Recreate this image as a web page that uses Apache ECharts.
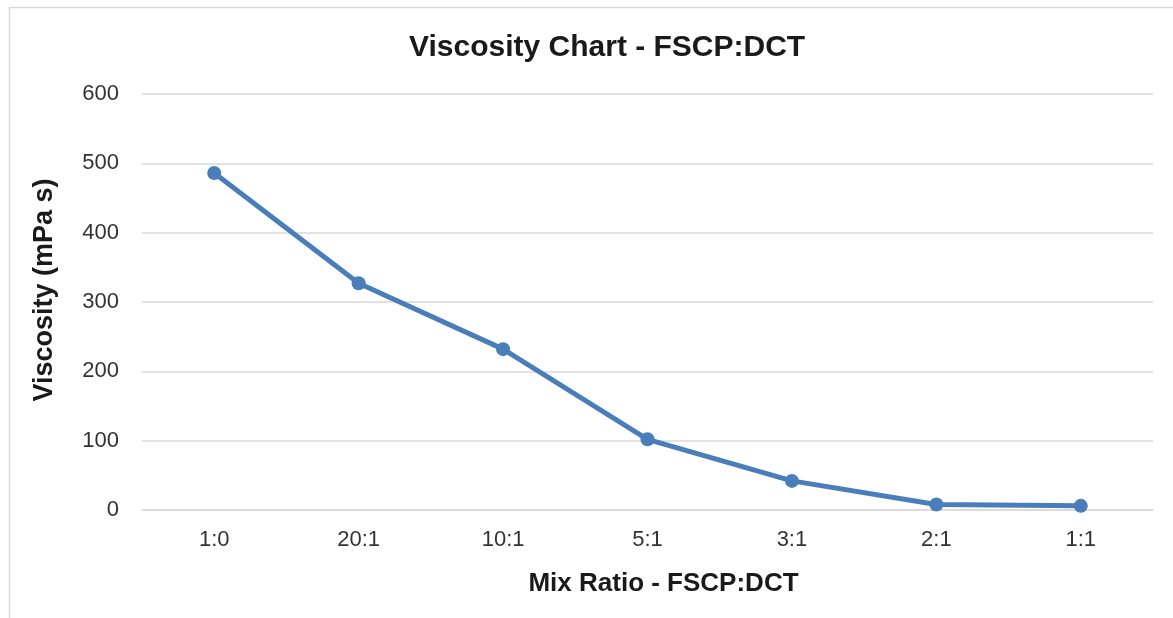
<!DOCTYPE html>
<html>
<head>
<meta charset="utf-8">
<script src="https://cdn.jsdelivr.net/npm/echarts@6/dist/echarts.min.js"></script>
<style>
  html, body { margin: 0; padding: 0; background: #fff; }
  #chart { width: 1173px; height: 618px; }
</style>
</head>
<body>
<div id="chart"></div>
<script>
// mix ratios along the x axis
const ratios = ['1:0', '20:1', '10:1', '5:1', '3:1', '2:1', '1:1'];
// viscosity (mPa s)
const viscosity = [486, 327, 232, 102, 42, 8, 6];

const chart = echarts.init(document.getElementById('chart'));
const font = '"Liberation Sans", Arial, sans-serif';

chart.setOption({
  backgroundColor: '#fff',
  textStyle: { fontFamily: font },
  graphic: [{
    type: 'rect',
    shape: { x: 9.5, y: 7.5, width: 1200, height: 700 },
    style: { fill: 'none', stroke: '#d9d9d9', lineWidth: 1.5 },
    silent: true
  }],
  title: {
    text: 'Viscosity Chart - FSCP:DCT',
    left: 404,
    top: 28,
    textStyle: { fontFamily: font, fontSize: 30, fontWeight: 'bold', color: '#1a1a1a' }
  },
  grid: { left: 142, right: 20, top: 94, bottom: 108 },
  xAxis: {
    type: 'category',
    data: ratios,
    boundaryGap: true,
    name: 'Mix Ratio - FSCP:DCT',
    nameLocation: 'middle',
    nameGap: 61,
    nameTextStyle: { fontFamily: font, fontSize: 26, fontWeight: 'bold', color: '#1a1a1a', padding: [0, 0, 0, 32] },
    axisLine: { show: true, lineStyle: { color: '#d9d9d9', width: 1.5 } },
    axisTick: { show: false },
    axisLabel: { fontFamily: font, fontSize: 22, color: '#333', margin: 19 }
  },
  yAxis: {
    type: 'value',
    min: 0,
    max: 600,
    interval: 100,
    name: 'Viscosity (mPa s)',
    nameLocation: 'middle',
    nameGap: 84,
    nameTextStyle: { fontFamily: font, fontSize: 27, fontWeight: 'bold', color: '#1a1a1a', padding: [0, 0, 0, 24] },
    axisLine: { show: false },
    axisTick: { show: false },
    axisLabel: { fontFamily: font, fontSize: 22, color: '#333', margin: 23 },
    splitLine: { lineStyle: { color: '#d9d9d9', width: 1.5 } }
  },
  series: [{
    type: 'line',
    data: viscosity,
    symbol: 'circle',
    symbolSize: 14,
    lineStyle: { color: '#4a7ebb', width: 5 },
    itemStyle: { color: '#4a7ebb' },
    animation: false
  }]
});

window.onresize = () => {
  chart.resize();
};
</script>
</body>
</html>
